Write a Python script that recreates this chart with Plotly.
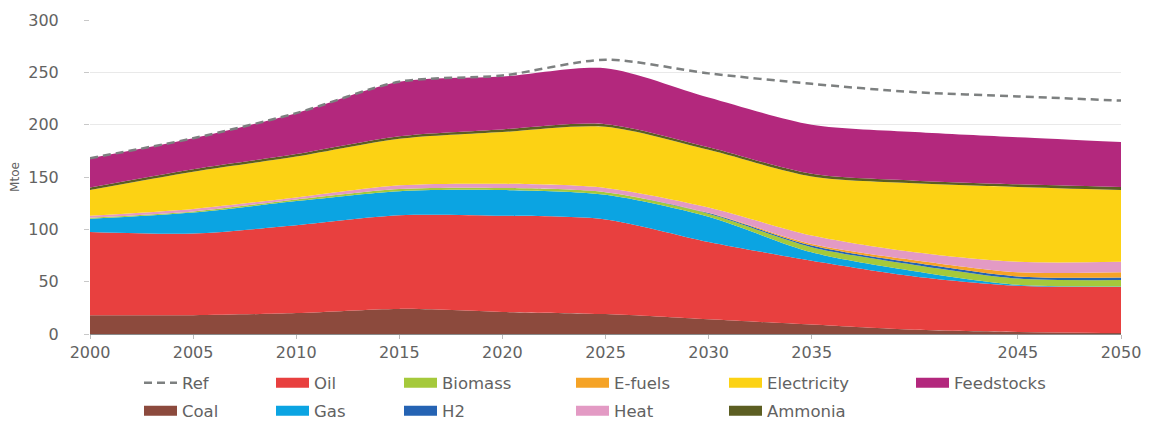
import plotly.graph_objects as go

years = [2000, 2005, 2010, 2015, 2020, 2025, 2030, 2035, 2040, 2045, 2050]
tick_years = [2000, 2005, 2010, 2015, 2020, 2025, 2030, 2035, 2045, 2050]

coal = [18, 18, 20, 24, 21, 19, 14, 9, 4, 2, 1]
oil = [79.5, 78, 84, 89.5, 92, 90.5, 74, 61, 51, 44, 44]
gas = [12.5, 20, 23, 23, 24.5, 23.5, 24, 8, 5, 1, 0.5]
biomass = [1, 1, 1.5, 2, 2, 2.5, 3, 5, 6, 6, 6]
h2 = [0, 0, 0, 0, 0, 0, 0.5, 1.5, 2, 2, 2.5]
efuels = [0, 0, 0, 0, 0, 0, 0.3, 1.5, 2.5, 4, 5]
heat = [2, 2.5, 2, 3.5, 4, 4, 5, 8, 7.5, 10, 10]
electricity = [24.5, 35.5, 39, 44.5, 49.5, 58.5, 55.2, 56.5, 66, 71.5, 68.5]
ammonia = [2.5, 2.5, 2.5, 2.5, 2.5, 2.5, 2.5, 2.5, 2.5, 2.5, 3]
feedstocks = [28, 29.5, 39, 52, 50.5, 53.5, 47.5, 47, 46.5, 45, 43]
ref = [168, 187, 211, 241, 247, 262, 249, 239, 231, 227, 223]

series = [
    ("Coal", coal, "#8c4a3d"),
    ("Oil", oil, "#e8403f"),
    ("Gas", gas, "#0ba4e2"),
    ("Biomass", biomass, "#a5c93b"),
    ("H2", h2, "#2563b3"),
    ("E-fuels", efuels, "#f5a326"),
    ("Heat", heat, "#e39ac4"),
    ("Electricity", electricity, "#fcd214"),
    ("Ammonia", ammonia, "#5c5e22"),
    ("Feedstocks", feedstocks, "#b3287d"),
]

# page body has an 8px margin, so figure coords = screen coords - 8
OFF = 8
legend_pos = {
    "Ref": (144, 0), "Coal": (144, 1),
    "Oil": (276, 0), "Gas": (276, 1),
    "Biomass": (404, 0), "H2": (404, 1),
    "E-fuels": (576, 0), "Heat": (576, 1),
    "Electricity": (729, 0), "Ammonia": (729, 1),
    "Feedstocks": (916, 0),
}
row_y = [383, 411]

W, H = 1151, 428
PL, PT = 90 - OFF, 20 - OFF
PR = W - (1121 - OFF)
PB = H - (334 - OFF)
pw = W - PL - PR
ph = H - PT - PB

font_fam = "DejaVu Sans"
txt_col = "#626262"

fig = go.Figure()
layout_legends = {}
names_order = ["Ref"] + [s[0] for s in series]
legend_ids = {}
for i, n in enumerate(names_order):
    lid = "legend" if i == 0 else f"legend{i + 1}"
    legend_ids[n] = lid
    px, r = legend_pos[n]
    layout_legends[lid] = dict(
        x=(px - OFF - 5 - PL) / pw,
        y=(PT + ph - (row_y[r] - OFF)) / ph,
        xanchor="left", yanchor="middle",
        orientation="v", bgcolor="rgba(0,0,0,0)",
        borderwidth=0,
        font=dict(family=font_fam, size=16.5, color=txt_col),
        itemwidth=33,
    )

for name, vals, col in series:
    fig.add_trace(go.Scatter(
        x=years, y=vals, name=name, mode="lines",
        stackgroup="one",
        line=dict(width=0, color=col, shape="spline", smoothing=0.8),
        fillcolor=col,
        showlegend=False, legendgroup=name,
    ))

fig.add_trace(go.Scatter(
    x=years, y=ref, name="Ref", mode="lines",
    line=dict(color="#7d8080", width=2.5, dash="8px,5px", shape="spline", smoothing=0.8),
    legend=legend_ids["Ref"],
))

# legend-only swatches (rectangles like the reference)
for name, vals, col in series:
    fig.add_trace(go.Scatter(
        x=[None], y=[None], name=name, mode="lines",
        line=dict(color=col, width=10),
        legend=legend_ids[name], legendgroup=name,
        hoverinfo="skip",
    ))

fig.update_layout(
    width=W, height=H,
    margin=dict(l=PL, r=PR, t=PT, b=PB, autoexpand=False),
    paper_bgcolor="white", plot_bgcolor="white",
    font=dict(family=font_fam, size=16, color=txt_col),
    showlegend=True,
    **layout_legends,
)
fig.update_xaxes(
    range=[2000, 2050], tickvals=tick_years, ticktext=[str(y) for y in tick_years],
    showgrid=False, showline=True, linecolor="#8a8a8a", linewidth=1,
    ticks="outside", ticklen=4, tickcolor="#bbbbbb",
    tickfont=dict(family=font_fam, size=16, color=txt_col), zeroline=False,
)
fig.update_yaxes(
    range=[0, 300], tickvals=[0, 50, 100, 150, 200, 250, 300],
    showgrid=True, gridcolor="#e9e9e9", gridwidth=1, zeroline=False,
    ticks="outside", ticklen=5, tickcolor="#c8c8c8",
    ticklabelstandoff=22,
    tickfont=dict(family=font_fam, size=16, color=txt_col),
    title=dict(text="Mtoe", font=dict(family=font_fam, size=12, color=txt_col), standoff=6),
)

fig.write_html("out.html")
